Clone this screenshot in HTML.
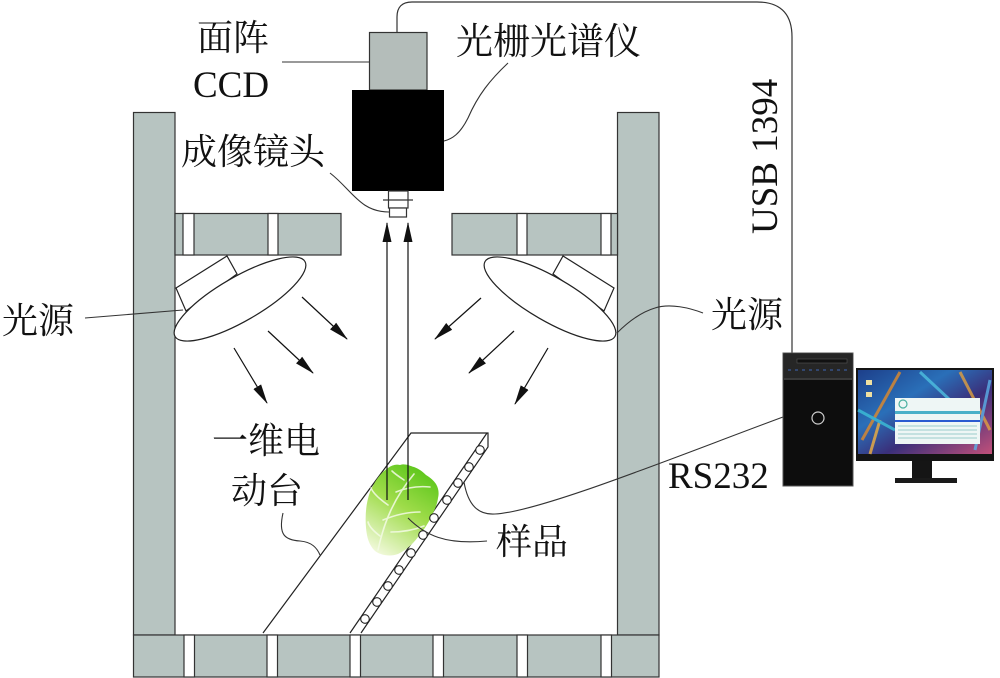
<!DOCTYPE html>
<html><head><meta charset="utf-8"><style>
html,body{margin:0;padding:0;background:#fff;}
svg{display:block;}
text{font-family:"Liberation Serif","Noto Serif CJK SC",serif;fill:#111;}
</style></head><body>
<svg width="1000" height="678" viewBox="0 0 1000 678" xmlns="http://www.w3.org/2000/svg">
<defs>
<marker id="ah" markerWidth="20" markerHeight="10" refX="19" refY="5" orient="auto" markerUnits="userSpaceOnUse"><path d="M0,0.5 L20,5 L0,9.5 z" fill="#111"/></marker>
<linearGradient id="cab" x1="0.7" y1="0" x2="0.2" y2="1">
<stop offset="0" stop-color="#5cc61a"/>
<stop offset="0.45" stop-color="#9fdc4a"/>
<stop offset="1" stop-color="#f2f9dc"/>
</linearGradient>
<linearGradient id="scr" x1="0" y1="0" x2="1" y2="1">
<stop offset="0" stop-color="#1d3f8a"/>
<stop offset="0.35" stop-color="#2a6fb8"/>
<stop offset="0.6" stop-color="#3a2f7a"/>
<stop offset="1" stop-color="#c2507a"/>
</linearGradient>
</defs>

<!-- walls / frame -->
<g fill="#b7c4c1" stroke="#333" stroke-width="1.2">
<rect x="133.5" y="112.5" width="41.5" height="522.5"/>
<rect x="617.5" y="112.5" width="41.5" height="522.5"/>
<rect x="175" y="213.5" width="166" height="41.5"/>
<rect x="452" y="213.5" width="165.5" height="41.5"/>
<rect x="133.5" y="635" width="525.5" height="42"/>
</g>
<g fill="#fff" stroke="#333" stroke-width="1.2">
<rect x="183" y="213.5" width="11" height="41.5"/>
<rect x="268" y="213.5" width="10" height="41.5"/>
<rect x="517" y="213.5" width="10" height="41.5"/>
<rect x="601" y="213.5" width="10" height="41.5"/>
<rect x="184" y="635" width="10.5" height="42"/>
<rect x="267" y="635" width="10.5" height="42"/>
<rect x="350" y="635" width="10.5" height="42"/>
<rect x="433" y="635" width="10.5" height="42"/>
<rect x="517" y="635" width="10.5" height="42"/>
<rect x="601" y="635" width="10.5" height="42"/>
</g>

<!-- camera -->
<path d="M397,32 L397,17 Q397,2 412,2 L757,2 Q792,2 792,37 L792,354" fill="none" stroke="#333" stroke-width="1.2"/>
<rect x="369.5" y="32.5" width="57.5" height="57.5" fill="#b4bdba" stroke="#333" stroke-width="1.2"/>
<rect x="352" y="90" width="92" height="101" fill="#000"/>
<rect x="388.5" y="191" width="19.5" height="17" fill="#fff" stroke="#333" stroke-width="1.2"/>
<line x1="383" y1="200" x2="413" y2="200" stroke="#333" stroke-width="1.2"/>
<rect x="389.5" y="208" width="17" height="9" fill="#fff" stroke="#333" stroke-width="1.2"/>

<!-- leaders top -->
<g fill="none" stroke="#333" stroke-width="1.1">
<line x1="282" y1="62" x2="369" y2="62"/>
<path d="M508,63 C490,80 478,95 468,118 C460,134 452,139 444,141"/>
<path d="M330,173 C352,190 360,212 389,212"/>
<line x1="85" y1="318" x2="183" y2="310"/>
<path d="M703,313 C690,308 670,303 655,308 C638,313 625,325 617,333"/>
<path d="M283,513 C278,535 285,540 300,541 C312,542 317,548 320,555"/>
</g>

<!-- lights -->
<g fill="#fff" stroke="#222" stroke-width="1.2">
<polygon points="176,288 227,256 237,274 186,311"/>
<ellipse cx="240" cy="299" rx="75" ry="22" transform="rotate(-30 240 299)"/>
<polygon points="614,288 563,256 553,274 604,311"/>
<ellipse cx="550" cy="299" rx="75" ry="22" transform="rotate(30 550 299)"/>
</g>

<!-- light arrows -->
<g stroke="#111" stroke-width="1.2" marker-end="url(#ah)">
<line x1="302" y1="297" x2="347" y2="339"/>
<line x1="268" y1="331" x2="313" y2="373"/>
<line x1="234" y1="348" x2="267" y2="403"/>
<line x1="481" y1="298" x2="435" y2="339"/>
<line x1="514" y1="331" x2="469" y2="373"/>
<line x1="548" y1="348" x2="515" y2="404"/>
</g>

<!-- stage -->
<g fill="none" stroke="#222" stroke-width="1.2">
<polyline points="263,633 411,433 488,433 488,447 361,633"/>
<line x1="487" y1="433" x2="350" y2="633"/>
</g>

<!-- cabbage -->
<path d="M388,468 C392,465 396,464 400,465 C405,463 410,466 414,467 C419,469 422,471 426,475 C431,478 434,481 436,484 C439,489 439,494 438,498 C437,505 435,509 433,513 C429,522 424,530 418,537 C412,545 406,550 398,554 C390,557 380,555 375,551 C369,545 367,538 366,528 C365,515 366,503 370,492 C374,483 379,474 388,468 Z" fill="url(#cab)"/>
<g fill="none" stroke="#f4fbe6" stroke-width="1.6" opacity="0.85" stroke-linecap="round">
<path d="M378,550 C384,522 394,498 414,474"/>
<path d="M383,520 C395,515 408,512 420,512"/>
<path d="M388,505 C378,498 373,493 371,488"/>
<path d="M396,492 C408,487 420,486 430,487"/>
<path d="M380,536 C372,530 369,526 368,522"/>
<path d="M391,532 C404,532 414,530 424,526"/>
<path d="M404,480 C398,476 395,474 392,471"/>
</g>

<!-- belt circles -->
<g fill="#fff" stroke="#222" stroke-width="1.1">
<circle cx="480" cy="450" r="4.3"/>
<circle cx="469" cy="467" r="4.3"/>
<circle cx="458" cy="483" r="4.3"/>
<circle cx="447" cy="500" r="4.3"/>
<circle cx="434" cy="518" r="4.3"/>
<circle cx="423" cy="535" r="4.3"/>
<circle cx="411" cy="553" r="4.3"/>
<circle cx="399" cy="570" r="4.3"/>
<circle cx="388" cy="586" r="4.3"/>
<circle cx="377" cy="602" r="4.3"/>
<circle cx="365" cy="619" r="4.3"/>
</g>

<!-- up arrows -->
<g stroke="#111" stroke-width="1.2" marker-end="url(#ah)">
<line x1="387" y1="500" x2="387" y2="223"/>
<line x1="408" y1="500" x2="408" y2="223"/>
</g>

<!-- sample + RS232 leaders -->
<g fill="none" stroke="#333" stroke-width="1.1">
<path d="M408,518 C425,535 445,545 487,541"/>
<path d="M464,482 C468,505 478,515 495,514 C540,512 680,455 783,417"/>
</g>

<!-- computer tower -->
<rect x="783" y="353" width="70" height="133" fill="#0d0d0d" stroke="#555" stroke-width="1"/>
<rect x="784" y="354" width="68" height="24" fill="#262626"/>
<rect x="797" y="359" width="50" height="4" fill="#111" stroke="#555" stroke-width="0.6"/>
<line x1="788" y1="370" x2="848" y2="370" stroke="#3a5a9a" stroke-width="1.2" stroke-dasharray="3,4"/>
<line x1="784" y1="379" x2="852" y2="379" stroke="#666" stroke-width="1"/>
<circle cx="818" cy="418" r="6" fill="#0d0d0d" stroke="#cfcfcf" stroke-width="1.2"/>

<!-- monitor -->
<rect x="912" y="460" width="20" height="19" fill="#151515"/>
<rect x="895" y="478" width="62" height="5" fill="#1a1a1a"/>
<rect x="856" y="368" width="138" height="93" fill="#141414"/>
<rect x="858" y="370" width="134" height="84" fill="url(#scr)"/>
<g stroke-width="3" opacity="0.8">
<line x1="862" y1="440" x2="900" y2="372" stroke="#e08a2a"/>
<line x1="870" y1="454" x2="880" y2="420" stroke="#f0b040"/>
<line x1="920" y1="372" x2="950" y2="400" stroke="#4ec0e0"/>
<line x1="960" y1="372" x2="990" y2="430" stroke="#e0a040"/>
<line x1="858" y1="410" x2="895" y2="430" stroke="#3cc0d8"/>
<line x1="975" y1="450" x2="990" y2="380" stroke="#5ab0e8"/>
</g>
<rect x="866" y="380" width="6" height="5" fill="#f0e0a0"/>
<rect x="866" y="392" width="6" height="5" fill="#f0e0a0"/>
<rect x="895" y="398" width="85" height="46" fill="#eef6f5"/>
<rect x="895" y="411" width="85" height="3" fill="#4ab0c8"/>
<rect x="895" y="420" width="85" height="2" fill="#2a5ad0"/>
<g stroke="#9cc" stroke-width="1">
<line x1="898" y1="426" x2="977" y2="426"/>
<line x1="898" y1="430" x2="977" y2="430"/>
<line x1="898" y1="434" x2="977" y2="434"/>
<line x1="898" y1="438" x2="977" y2="438"/>
</g>
<circle cx="903" cy="404" r="4" fill="none" stroke="#4ab0a0" stroke-width="1.2"/>

<!-- labels -->
<text x="197" y="50" font-size="36">面阵</text>
<text x="193" y="97" font-size="37">CCD</text>
<text x="456" y="54" font-size="37">光栅光谱仪</text>
<text x="181" y="164" font-size="36">成像镜头</text>
<text x="2" y="333" font-size="36">光源</text>
<text x="711" y="327" font-size="36">光源</text>
<text x="212" y="453" font-size="36">一维电</text>
<text x="231" y="503" font-size="36">动台</text>
<text x="496" y="554" font-size="36">样品</text>
<text x="668" y="488" font-size="37">RS232</text>
<text transform="translate(777,234) rotate(-90)" font-size="37">USB 1394</text>
</svg>
</body></html>
